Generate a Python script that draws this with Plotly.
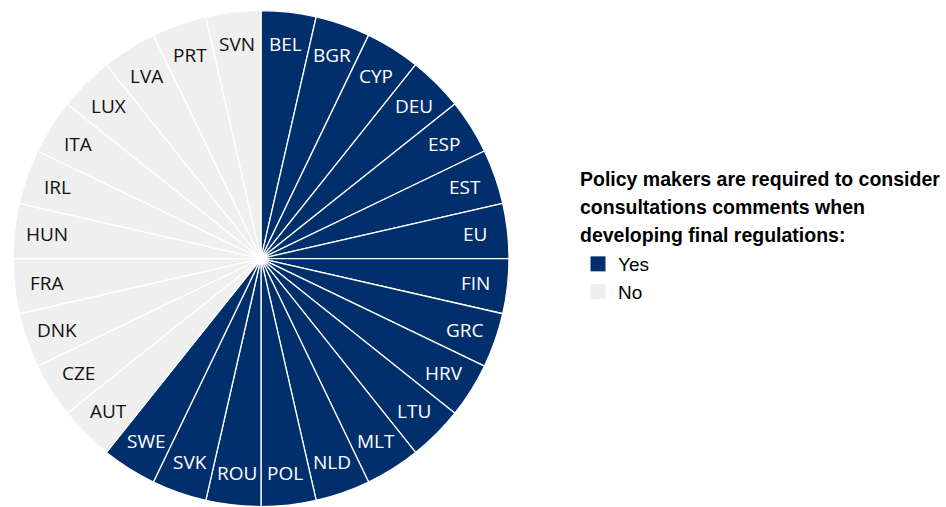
import math
import plotly.graph_objects as go

# Countries in clockwise order starting at 12 o'clock
countries = ["BEL", "BGR", "CYP", "DEU", "ESP", "EST", "EU", "FIN", "GRC", "HRV",
             "LTU", "MLT", "NLD", "POL", "ROU", "SVK", "SWE",
             "AUT", "CZE", "DNK", "FRA", "HUN", "IRL", "ITA", "LUX", "LVA", "PRT", "SVN"]
answers = ["Yes"] * 17 + ["No"] * 11
weights = [1] * len(countries)

legend_title_lines = ["Policy makers are required to consider",
                      "consultations comments when",
                      "developing final regulations:"]

YES_COLOR = "#002F6C"
NO_COLOR = "#EFEFEF"
color_of = {"Yes": YES_COLOR, "No": NO_COLOR}
text_color_of = {"Yes": "#FFFFFF", "No": "#111111"}

W, H = 946, 507
dom_x = [13 / W, 509 / W]
dom_y = [0.0, 0.98]

fig = go.Figure()
fig.add_trace(go.Pie(
    labels=countries,
    values=weights,
    sort=False,
    direction="clockwise",
    rotation=0,
    marker=dict(colors=[color_of[a] for a in answers],
                line=dict(color="#FFFFFF", width=1.3)),
    textinfo="none",
    hoverinfo="label",
    showlegend=False,
    domain=dict(x=dom_x, y=dom_y),
))

# Legend entries for the two answer categories
for name in ["Yes", "No"]:
    fig.add_trace(go.Scatter(
        x=[None], y=[None], mode="markers", name=name,
        marker=dict(symbol="square", size=15, color=color_of[name]),
    ))

# Horizontal country labels placed along each slice's bisector
cx = (dom_x[0] + dom_x[1]) / 2 * W
cy_from_bottom = (dom_y[0] + dom_y[1]) / 2 * H
R = min((dom_x[1] - dom_x[0]) * W, (dom_y[1] - dom_y[0]) * H) / 2
total = sum(weights)
cum = 0
for c, a, w in zip(countries, answers, weights):
    ang = math.radians((cum + w / 2) / total * 360)
    cum += w
    r = 0.87 * R
    px = cx + r * math.sin(ang)
    py = cy_from_bottom + r * math.cos(ang)
    fig.add_annotation(
        x=px / W, y=py / H, xref="paper", yref="paper",
        text=c, showarrow=False, xanchor="center", yanchor="middle",
        font=dict(family="Open Sans", size=19, color=text_color_of[a]),
    )

# Legend heading, one line per annotation for even spacing
for i, line in enumerate(legend_title_lines):
    fig.add_annotation(
        x=578 / W, y=1 - (179 + 28 * i) / H, xref="paper", yref="paper",
        text="<b>" + line + "</b>", showarrow=False,
        xanchor="left", yanchor="middle",
        font=dict(family="Liberation Sans", size=19.5, color="#000000"),
    )

fig.update_layout(
    width=W, height=H,
    margin=dict(l=0, r=0, t=0, b=0),
    paper_bgcolor="#FFFFFF",
    plot_bgcolor="#FFFFFF",
    xaxis=dict(visible=False, domain=[0.6, 0.61]),
    yaxis=dict(visible=False, domain=[0.4, 0.41]),
    legend=dict(
        font=dict(family="Liberation Sans", size=19, color="#000000"),
        x=578 / W, y=1 - 245 / H, xanchor="left", yanchor="top",
        bgcolor="rgba(0,0,0,0)", tracegroupgap=0, itemwidth=30,
    ),
)

fig.write_html("out.html")
